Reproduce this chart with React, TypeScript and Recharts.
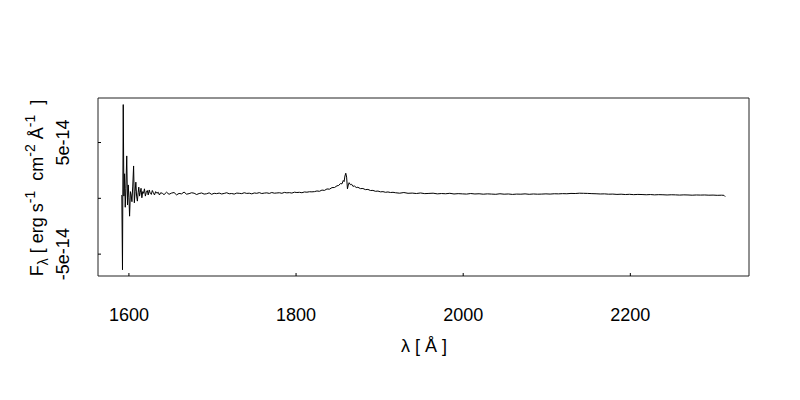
import React from "react";
import { LineChart, Line, XAxis, YAxis, ReferenceArea, Label } from "recharts";

// Spectrum. Wavelength in Angstrom, flux in units of 1e-14 erg s^-1 cm^-2 A^-1.
// Noisy blue end
const wlBlue: number[] = [
  1591.5, 1592.3, 1593.2, 1594.0, 1594.8, 1595.6, 1596.4, 1597.4, 1598.3, 1599.2,
  1600.0, 1600.8, 1601.8, 1602.7, 1603.6, 1604.6, 1605.6, 1606.5, 1607.4, 1608.3,
  1609.2, 1610.1, 1611.0, 1611.8, 1612.7, 1613.6, 1614.5, 1615.5, 1616.5, 1617.5,
  1618.6, 1619.7, 1620.8, 1622.0, 1623.1, 1624.3, 1625.5, 1626.8, 1628.0, 1629.3,
  1630.6, 1632.0, 1633.5, 1635.0, 1636.5, 1638.0, 1640.0,
];
const fxBlue: number[] = [
  0.3, -6.4, 8.4, 0.2, 2.2, -0.8, 0.9, 3.8, -0.6, 1.2,
  0.1, -1.6, 0.6, 0.3, -0.3, 1.1, 2.9, -0.4, 0.6, 1.45,
  0.2, -0.25, 0.5, 1.0, 0.2, 0.55, 0.9, 0.05, 0.6, 0.45,
  0.85, 0.2, 0.55, 0.7, 0.3, 0.75, 0.45, 0.35, 0.7, 0.5,
  0.3, 0.6, 0.45, 0.55, 0.3, 0.5, 0.45,
];
// Continuum before the emission bump
const wlCont1: number[] = [
  1642, 1645, 1648, 1651, 1654, 1657, 1660, 1663, 1666, 1669, 1672, 1675, 1678, 1681,
  1684, 1687, 1690, 1693, 1696, 1699, 1702, 1705, 1708, 1711, 1714, 1717, 1720, 1723,
  1726, 1729, 1732, 1735, 1738, 1741, 1744, 1747, 1750, 1753, 1756, 1759, 1762, 1765,
  1768, 1771, 1774, 1777, 1780, 1783, 1786, 1789, 1792, 1795, 1798, 1801, 1804, 1807,
  1810, 1813, 1816, 1819,
];
const fxCont1: number[] = [
  0.33, 0.55, 0.36, 0.47, 0.52, 0.31, 0.44, 0.4, 0.56, 0.37, 0.42, 0.5, 0.46, 0.34,
  0.43, 0.48, 0.38, 0.41, 0.49, 0.36, 0.45, 0.42, 0.47, 0.39, 0.44, 0.5, 0.41, 0.43,
  0.38, 0.47, 0.45, 0.42, 0.5, 0.44, 0.46, 0.4, 0.48, 0.45, 0.51, 0.43, 0.47, 0.49,
  0.44, 0.52, 0.46, 0.48, 0.5, 0.45, 0.53, 0.49, 0.51, 0.47, 0.55, 0.52, 0.54, 0.5,
  0.57, 0.55, 0.59, 0.58,
];
// Emission bump near 1860 A
const wlBump: number[] = [
  1822, 1825, 1828, 1831, 1834, 1837, 1840, 1843, 1846, 1849, 1851, 1853, 1855, 1856.5,
  1857.5, 1858.5, 1859.5, 1860.5, 1861.5, 1862.5, 1863.5, 1865, 1866.5, 1868, 1870,
  1872, 1874, 1877, 1880, 1883, 1886, 1889, 1892, 1895, 1898, 1901, 1904, 1907, 1910,
  1913, 1916,
];
const fxBump: number[] = [
  0.6, 0.66, 0.63, 0.74, 0.71, 0.84, 0.82, 0.96, 0.97, 1.12, 1.15, 1.32, 1.3, 1.6,
  1.5, 2.0, 2.25, 1.9, 0.85, 1.2, 1.4, 1.22, 1.26, 1.08, 1.1,
  0.97, 0.99, 0.87, 0.88, 0.78, 0.8, 0.7, 0.71, 0.63, 0.65, 0.58, 0.6, 0.54, 0.57,
  0.52, 0.54,
];
// Red continuum
const wlCont2: number[] = [
  1919, 1924, 1929, 1934, 1939, 1944, 1949, 1954, 1959, 1964, 1969, 1974, 1979, 1984,
  1989, 1994, 1999, 2004, 2009, 2014, 2019, 2024, 2029, 2034, 2039, 2044, 2049, 2054,
  2059, 2064, 2069, 2074, 2079, 2084, 2089, 2094, 2099, 2104, 2109, 2114, 2119, 2124,
  2129, 2134, 2139, 2144, 2149, 2154, 2159, 2164, 2169, 2174, 2179, 2184, 2189, 2194,
  2199, 2204, 2209, 2214, 2219, 2224, 2229, 2234, 2239, 2244, 2249, 2254, 2259, 2264,
  2269, 2274, 2279, 2284, 2289, 2294, 2299, 2304, 2309, 2312, 2313.5,
];
const fxCont2: number[] = [
  0.5, 0.46, 0.52, 0.45, 0.47, 0.43, 0.48, 0.42, 0.44, 0.46, 0.4, 0.43, 0.41, 0.45,
  0.39, 0.42, 0.4, 0.38, 0.43, 0.39, 0.41, 0.37, 0.4, 0.38, 0.36, 0.41, 0.37, 0.39,
  0.35, 0.38, 0.37, 0.4, 0.36, 0.39, 0.37, 0.38, 0.4, 0.38, 0.41, 0.4, 0.42, 0.41,
  0.44, 0.43, 0.46, 0.45, 0.44, 0.42, 0.41, 0.39, 0.4, 0.37, 0.38, 0.35, 0.37, 0.34,
  0.36, 0.33, 0.35, 0.34, 0.32, 0.34, 0.31, 0.33, 0.32, 0.3, 0.32, 0.31, 0.29, 0.31,
  0.3, 0.28, 0.3, 0.29, 0.3, 0.28, 0.29, 0.27, 0.28, 0.27, 0.15,
];

const xTicks: number[] = [1600, 1800, 2000, 2200];
const yTicks: number[] = [-5e-14, 0, 5e-14];
const xDomain: [number, number] = [1563, 2342];
const yDomain: [number, number] = [-6.96e-14, 8.99e-14];

const wavelengths = [...wlBlue, ...wlCont1, ...wlBump, ...wlCont2];
const fluxE14 = [...fxBlue, ...fxCont1, ...fxBump, ...fxCont2];
const data = wavelengths.map((w, i) => ({ wl: w, flux: fluxE14[i] * 1e-14 }));

const FONT = "'Liberation Sans', Arial, Helvetica, sans-serif";
const FS = 18;
const SUP = 14;

const XTick = (props: any) => {
  const { x, y, payload } = props;
  return (
    <text x={x} y={y} dy="0.72em" textAnchor="middle" fontFamily={FONT} fontSize={FS} fill="#000">
      {String(payload.value)}
    </text>
  );
};

const YTick = (props: any) => {
  const { x, y, payload } = props;
  const v: number = payload.value;
  if (v === 0) return <g />;
  return (
    <text
      x={x}
      y={y}
      textAnchor="middle"
      transform={`rotate(-90, ${x}, ${y})`}
      fontFamily={FONT}
      fontSize={FS}
      fill="#000"
    >
      {v.toExponential()}
    </text>
  );
};

const YTitle = () => {
  const cx = 43;
  const cy = 188;
  return (
    <text
      x={cx}
      y={cy}
      textAnchor="middle"
      transform={`rotate(-90, ${cx}, ${cy})`}
      fontFamily={FONT}
      fontSize={FS}
      fill="#000"
      style={{ whiteSpace: "pre" }}
    >
      <tspan>F</tspan>
      <tspan fontSize={SUP} dy={5}>λ</tspan>
      <tspan dy={-5}>{" [ erg s"}</tspan>
      <tspan fontSize={SUP} dy={-8}>-1</tspan>
      <tspan dy={8}>{"  cm"}</tspan>
      <tspan fontSize={SUP} dy={-8}>-2</tspan>
      <tspan dy={8}>{" Å"}</tspan>
      <tspan fontSize={SUP} dy={-8}>-1</tspan>
      <tspan dy={8}>{"  ]"}</tspan>
    </text>
  );
};

const XTitle = () => (
  <text x={424} y={352} textAnchor="middle" fontFamily={FONT} fontSize={FS} fill="#000">
    λ [ Å ]
  </text>
);

export default function App() {
  return (
    <div style={{ position: "absolute", left: 0, top: 0, width: 800, height: 400, background: "#fff" }}>
      <LineChart
        width={800}
        height={400}
        data={data}
        margin={{ top: 98, right: 51, left: 0, bottom: 0 }}
      >
        <XAxis
          dataKey="wl"
          type="number"
          domain={xDomain}
          ticks={xTicks}
          allowDataOverflow
          height={124}
          axisLine={false}
          tickLine={{ stroke: "#000" }}
          tickSize={-3}
          tickMargin={35}
          tick={<XTick />}
          interval={0}
        >
          <Label content={<XTitle />} />
        </XAxis>
        <YAxis
          type="number"
          domain={yDomain}
          ticks={yTicks}
          allowDataOverflow
          width={98}
          axisLine={false}
          tickLine={{ stroke: "#000" }}
          tickSize={-3}
          tickMargin={32}
          tick={<YTick />}
          interval={0}
        >
          <Label content={<YTitle />} />
        </YAxis>
        <ReferenceArea
          x1={xDomain[0]}
          x2={xDomain[1]}
          y1={yDomain[0]}
          y2={yDomain[1]}
          fill="none"
          fillOpacity={0}
          stroke="#222"
          strokeWidth={1}
          ifOverflow="visible"
        />
        <Line
          type="linear"
          dataKey="flux"
          stroke="#000"
          strokeWidth={1}
          dot={false}
          isAnimationActive={false}
        />
      </LineChart>
    </div>
  );
}
